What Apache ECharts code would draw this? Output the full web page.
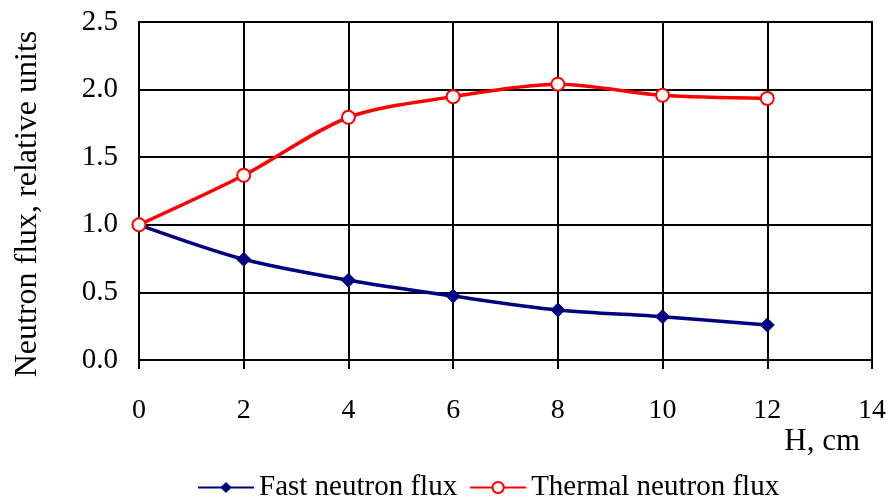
<!DOCTYPE html>
<html>
<head>
<meta charset="utf-8">
<script src="https://cdn.jsdelivr.net/npm/echarts@6/dist/echarts.min.js"></script>
<style>
  html, body { margin: 0; padding: 0; background: #fff; }
  #chart { width: 894px; height: 502px; }
</style>
</head>
<body>
<div id="chart"></div>
<script>
  // данные с графика
  const depth = [0, 2, 4, 6, 8, 10, 12];
  const fastFlux = [1.0, 0.745, 0.59, 0.473, 0.37, 0.32, 0.259];
  const thermalFlux = [1.0, 1.366, 1.795, 1.948, 2.04, 1.958, 1.935];

  const font = 'Liberation Serif';

  let chart = echarts.init(document.getElementById('chart'));
  chart.setOption({
    animation: false,
    textStyle: { fontFamily: font, color: '#000' },
    grid: { left: 139, right: 22, top: 22, bottom: 142, show: true, borderColor: '#000', borderWidth: 2 },
    legend: {
      top: 473,
      left: 197,
      padding: 0,
      itemWidth: 56,
      itemHeight: 14,
      itemGap: 12,
      textStyle: { fontFamily: font, fontSize: 29, color: '#000' },
      data: ['Fast neutron flux', 'Thermal neutron flux']
    },
    xAxis: {
      type: 'value',
      min: 0, max: 14, interval: 2,
      name: 'H, cm',
      nameLocation: 'end',
      nameGap: 0,
      nameTextStyle: { fontFamily: font, fontSize: 31, color: '#000', align: 'right', verticalAlign: 'top', padding: [66, 12, 0, 0] },
      axisLine: { lineStyle: { color: '#000', width: 2 } },
      axisTick: { show: true, length: 9, lineStyle: { color: '#000', width: 2 } },
      axisLabel: { fontFamily: font, fontSize: 28, color: '#000', margin: 37 },
      splitLine: { lineStyle: { color: '#000', width: 2 } }
    },
    yAxis: {
      type: 'value',
      min: 0, max: 2.5, interval: 0.5,
      name: 'Neutron flux, relative units',
      nameLocation: 'middle',
      nameGap: 95,
      nameTextStyle: { fontFamily: font, fontSize: 32, color: '#000', padding: [0, 26, 0, 0] },
      axisLine: { show: true, lineStyle: { color: '#000', width: 2 } },
      axisTick: { show: false },
      axisLabel: { fontFamily: font, fontSize: 29, color: '#000', margin: 21, formatter: v => v.toFixed(1) },
      splitLine: { lineStyle: { color: '#000', width: 2 } }
    },
    series: [
      {
        name: 'Fast neutron flux',
        type: 'line',
        smooth: 0.3,
        data: depth.map((h, i) => [h, fastFlux[i]]),
        symbol: 'diamond',
        symbolSize: 14,
        lineStyle: { color: '#000080', width: 3.5 },
        itemStyle: { color: '#000080', borderColor: '#000080' }
      },
      {
        name: 'Thermal neutron flux',
        type: 'line',
        smooth: 0.3,
        data: depth.map((h, i) => [h, thermalFlux[i]]),
        symbol: 'circle',
        symbolSize: 13,
        lineStyle: { color: '#ff0000', width: 3.5 },
        itemStyle: { color: '#fff', borderColor: '#ff0000', borderWidth: 2 }
      }
    ]
  });
</script>
</body>
</html>
